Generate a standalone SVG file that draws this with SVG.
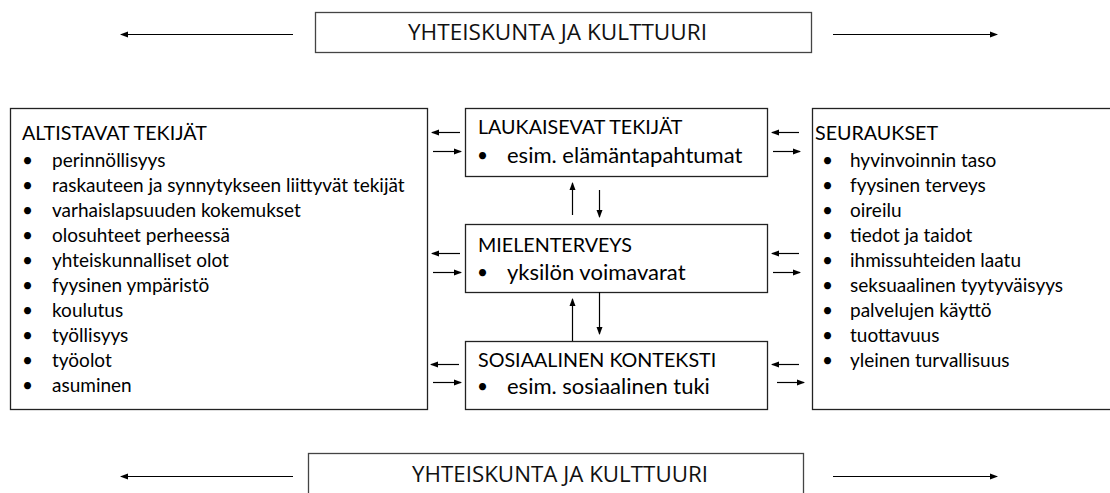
<svg xmlns="http://www.w3.org/2000/svg" width="1110" height="493" viewBox="0 0 1110 493">
<defs>
<marker id="ah" viewBox="0 0 8 8" refX="7" refY="4" markerWidth="8" markerHeight="8" markerUnits="userSpaceOnUse" orient="auto">
<path d="M0,1 L8,4 L0,7 Z" fill="#000"/>
</marker>
<style>
.box{fill:#fff;stroke:#222;stroke-width:1.3}
.obox{fill:#fff;stroke:#444;stroke-width:1.3}
.t{font-family:Lato,"Liberation Sans",sans-serif;font-size:19px;fill:#000}
.h{font-family:Lato,"Liberation Sans",sans-serif;font-size:19.7px;fill:#000}
.m{font-family:Lato,"Liberation Sans",sans-serif;font-size:22px;fill:#000}
.ot{font-family:"Open Sans","Liberation Sans",sans-serif;font-size:21.5px;fill:#111}
.c line{stroke:#000;stroke-width:1.2;marker-end:url(#ah)}
</style>
</defs>
<rect width="1110" height="493" fill="#fff"/>
<g id="yhteiskunta-top">
<rect class="obox" x="315.5" y="12.5" width="496" height="40"/>
<text class="ot" x="408" y="40" textLength="299" lengthAdjust="spacingAndGlyphs">YHTEISKUNTA JA KULTTUURI</text>
</g>
<g id="yhteiskunta-bottom">
<rect class="obox" x="308.5" y="453.5" width="495" height="45"/>
<text class="ot" x="412" y="482" textLength="296" lengthAdjust="spacingAndGlyphs">YHTEISKUNTA JA KULTTUURI</text>
</g>
<g id="altistavat">
<rect class="box" x="10.5" y="108.5" width="417" height="301"/>
<text class="h" x="22" y="140">ALTISTAVAT TEKIJÄT</text>
<g class="t">
<text x="22" y="167">•</text><text x="52" y="167">perinnöllisyys</text>
<text x="22" y="192">•</text><text x="52" y="192">raskauteen ja synnytykseen liittyvät tekijät</text>
<text x="22" y="217">•</text><text x="52" y="217">varhaislapsuuden kokemukset</text>
<text x="22" y="242">•</text><text x="52" y="242">olosuhteet perheessä</text>
<text x="22" y="267">•</text><text x="52" y="267">yhteiskunnalliset olot</text>
<text x="22" y="292">•</text><text x="52" y="292">fyysinen ympäristö</text>
<text x="22" y="317">•</text><text x="52" y="317">koulutus</text>
<text x="22" y="342">•</text><text x="52" y="342">työllisyys</text>
<text x="22" y="367">•</text><text x="52" y="367">työolot</text>
<text x="22" y="392">•</text><text x="52" y="392">asuminen</text>
</g>
</g>
<g id="laukaisevat">
<rect class="box" x="465.5" y="108.5" width="302" height="68"/>
<text class="h" x="478" y="134">LAUKAISEVAT TEKIJÄT</text>
<text class="t" x="477" y="162">•</text><text class="m" x="507" y="163">esim. elämäntapahtumat</text>
</g>
<g id="mielenterveys">
<rect class="box" x="465.5" y="224.5" width="302" height="68"/>
<text class="h" x="478" y="252">MIELENTERVEYS</text>
<text class="t" x="477" y="279">•</text><text class="m" x="507" y="280">yksilön voimavarat</text>
</g>
<g id="sosiaalinen">
<rect class="box" x="465.5" y="341.5" width="302" height="68"/>
<text class="h" x="478" y="367">SOSIAALINEN KONTEKSTI</text>
<text class="t" x="477" y="393">•</text><text class="m" x="507" y="394">esim. sosiaalinen tuki</text>
</g>
<g id="seuraukset">
<rect class="box" x="812.5" y="108.5" width="310" height="301"/>
<text class="h" x="815" y="140">SEURAUKSET</text>
<g class="t">
<text x="822" y="167">•</text><text x="850" y="167">hyvinvoinnin taso</text>
<text x="822" y="192">•</text><text x="850" y="192">fyysinen terveys</text>
<text x="822" y="217">•</text><text x="850" y="217">oireilu</text>
<text x="822" y="242">•</text><text x="850" y="242">tiedot ja taidot</text>
<text x="822" y="267">•</text><text x="850" y="267">ihmissuhteiden laatu</text>
<text x="822" y="292">•</text><text x="850" y="292">seksuaalinen tyytyväisyys</text>
<text x="822" y="317">•</text><text x="850" y="317">palvelujen käyttö</text>
<text x="822" y="342">•</text><text x="850" y="342">tuottavuus</text>
<text x="822" y="367">•</text><text x="850" y="367">yleinen turvallisuus</text>
</g>
</g>
<g id="connectors" class="c">
<line x1="293" y1="34.5" x2="121" y2="34.5"/>
<line x1="833" y1="34.5" x2="997" y2="34.5"/>
<line x1="293" y1="476.5" x2="121" y2="476.5"/>
<line x1="833" y1="476.5" x2="997" y2="476.5"/>
<line x1="460" y1="132.5" x2="432" y2="132.5"/>
<line x1="433" y1="151.5" x2="461" y2="151.5"/>
<line x1="460" y1="253.5" x2="432" y2="253.5"/>
<line x1="433" y1="272.5" x2="461" y2="272.5"/>
<line x1="459" y1="364.5" x2="431" y2="364.5"/>
<line x1="433" y1="382.5" x2="461" y2="382.5"/>
<line x1="799" y1="132.5" x2="772" y2="132.5"/>
<line x1="773" y1="151.5" x2="800" y2="151.5"/>
<line x1="799" y1="253.5" x2="772" y2="253.5"/>
<line x1="773" y1="272.5" x2="800" y2="272.5"/>
<line x1="799" y1="364.5" x2="772" y2="364.5"/>
<line x1="777" y1="382.5" x2="804" y2="382.5"/>
<line x1="572.5" y1="215" x2="572.5" y2="183"/>
<line x1="599.5" y1="190" x2="599.5" y2="217"/>
<line x1="572.5" y1="341" x2="572.5" y2="299"/>
<line x1="599.5" y1="292" x2="599.5" y2="334"/>
</g>
</svg>
